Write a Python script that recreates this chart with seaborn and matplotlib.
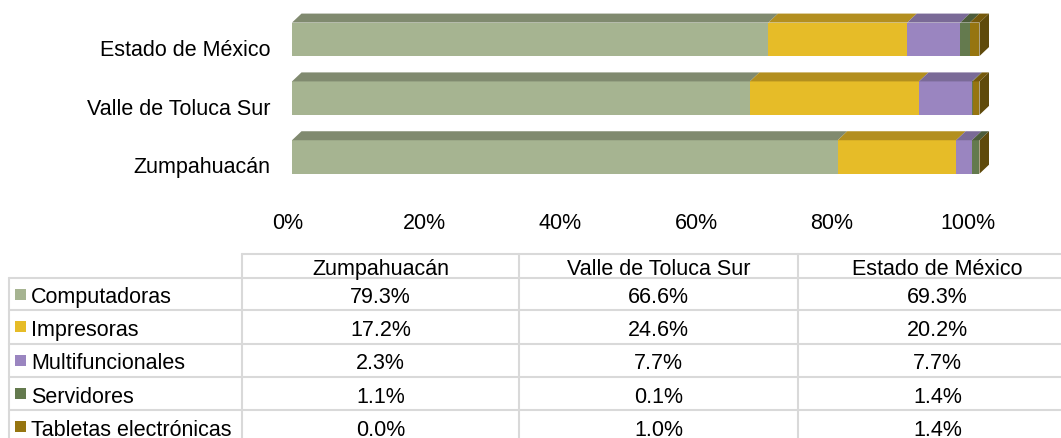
import numpy as np
import pandas as pd
import matplotlib
matplotlib.use("Agg")
import matplotlib.pyplot as plt
import matplotlib.transforms as mtransforms
from matplotlib.patches import Polygon, Rectangle
from matplotlib.lines import Line2D
import seaborn as sns

# ---------------- data ----------------
regions = ["Estado de México", "Valle de Toluca Sur", "Zumpahuacán"]   # bar order, top to bottom
table_regions = ["Zumpahuacán", "Valle de Toluca Sur", "Estado de México"]  # table column order
series = ["Computadoras", "Impresoras", "Multifuncionales", "Servidores", "Tabletas electrónicas"]
computadoras = [69.3, 66.6, 79.3]
impresoras = [20.2, 24.6, 17.2]
multifuncionales = [7.7, 7.7, 2.3]
servidores = [1.4, 0.1, 1.1]
tabletas = [1.4, 1.0, 0.0]
x_ticks = [0, 0.2, 0.4, 0.6, 0.8, 1.0]
x_tick_labels = ["0%", "20%", "40%", "60%", "80%", "100%"]

values = [computadoras, impresoras, multifuncionales, servidores, tabletas]

# ---------------- style ----------------
front_colors = ["#A6B491", "#E6BC28", "#9A85C0", "#647A4E", "#967510"]
top_colors = ["#808A6F", "#B38F1F", "#7A6A97", "#4C5C3A", "#75590B"]
side_color = "#5F4A0B"
grid_color = "#D9D9D9"
FS = 15.5

sns.set_style("white")
plt.rcParams["font.family"] = ["Liberation Sans", "DejaVu Sans"]
plt.rcParams["font.size"] = FS
plt.rcParams["text.color"] = "black"
plt.rcParams["xtick.color"] = "black"
plt.rcParams["ytick.color"] = "black"
plt.rcParams["xtick.labelcolor"] = "black"
plt.rcParams["ytick.labelcolor"] = "black"

W, H = 1061, 439
fig = plt.figure(figsize=(W / 100, H / 100), dpi=100)
fig.patch.set_facecolor("white")

def fx(x):
    return x / W

def fy(y):
    return 1 - y / H

# ---------------- bars ----------------
df = pd.DataFrame({"region": regions})
arr = np.array(values, dtype=float)
totals = arr.sum(axis=0)
shares = arr / totals
cum = np.cumsum(shares, axis=0)
for i, name in enumerate(series):
    df[name + "_cum"] = cum[i]
    df[name + "_start"] = cum[i] - shares[i]

x0p, x1p = 292, 979.5
ytop_p, ybot_p = 10.9, 187.4
ax = fig.add_axes([fx(x0p), fy(ybot_p), (x1p - x0p) / W, (ybot_p - ytop_p) / H])
bar_w = 0.569

for i in range(len(series) - 1, -1, -1):
    sns.barplot(data=df, x=series[i] + "_cum", y="region", order=regions,
                color=front_colors[i], saturation=1, width=bar_w, errorbar=None,
                orient="h", edgecolor="none", linewidth=0, ax=ax)

ax.set_xlim(0, 1)
ax.set_ylim(2.5, -0.5)

px_per_x = (x1p - x0p)
px_per_y = (ybot_p - ytop_p) / 3.0
dx = 9.5 / px_per_x
dy = 9.0 / px_per_y

for r in range(len(regions)):
    ytop = r - bar_w / 2
    ybot = r + bar_w / 2
    for i in range(len(series)):
        s = df[series[i] + "_start"].iloc[r]
        e = df[series[i] + "_cum"].iloc[r]
        poly = Polygon([(s, ytop), (e, ytop), (e + dx, ytop - dy), (s + dx, ytop - dy)],
                       closed=True, facecolor=top_colors[i], edgecolor="none",
                       clip_on=False, zorder=3)
        ax.add_patch(poly)
    e = df[series[-1] + "_cum"].iloc[r]
    side = Polygon([(e, ytop), (e, ybot), (e + dx, ybot - dy), (e + dx, ytop - dy)],
                   closed=True, facecolor=side_color, edgecolor="none",
                   clip_on=False, zorder=3)
    ax.add_patch(side)

for sp in ax.spines.values():
    sp.set_visible(False)
ax.set_xlabel("")
ax.set_ylabel("")
ax.xaxis.set_visible(False)
ax.tick_params(axis="y", length=0, pad=15.8, labelsize=FS, labelcolor="black")
ax.set_yticks(range(len(regions)))
ax.set_yticklabels(regions)
offset = mtransforms.ScaledTranslation(0, -15.5 / 100, fig.dpi_scale_trans)
for lab in ax.get_yticklabels():
    lab.set_verticalalignment("baseline")
    lab.set_color("black")
    lab.set_transform(lab.get_transform() + offset)
ax.patch.set_alpha(0)

# ---------------- x tick labels (value axis) ----------------
tax = fig.add_axes([fx(288), fy(229.5), 680 / W, 0.0001])
tax.set_xlim(0, 1)
tax.set_xticks(x_ticks)
tax.set_xticklabels(x_tick_labels)
tax.tick_params(axis="x", length=0, pad=0, labelsize=FS, labelcolor="black")
for lab in tax.get_xticklabels():
    lab.set_verticalalignment("baseline")
    lab.set_color("black")
tax.set_yticks([])
for sp in tax.spines.values():
    sp.set_visible(False)
tax.patch.set_alpha(0)

# ---------------- data table ----------------
tab = fig.add_axes([0, 0, 1, 1])
tab.set_xlim(0, W)
tab.set_ylim(H, 0)
tab.axis("off")
tab.patch.set_alpha(0)

header_top = 254.7
row_lines = [278.7, 311.3, 344.5, 377.5, 410.7, 443.9]
col_lines = [242.3, 519, 798, 1077]
left_x = 9
lw = 1.5

tab.add_line(Line2D([col_lines[0], W], [header_top, header_top], color=grid_color, lw=lw))
for yl in row_lines[:-1]:
    tab.add_line(Line2D([left_x, W], [yl, yl], color=grid_color, lw=lw))
tab.add_line(Line2D([left_x, left_x], [row_lines[0], H], color=grid_color, lw=lw))
for xl in col_lines[:-1]:
    tab.add_line(Line2D([xl, xl], [header_top, H], color=grid_color, lw=lw))

col_centers = [(col_lines[k] + col_lines[k + 1]) / 2 for k in range(3)]
for k, reg in enumerate(table_regions):
    tab.text(col_centers[k], 275, reg, ha="center", va="baseline", fontsize=FS, color="black")

for i, name in enumerate(series):
    top = row_lines[i]
    bot = row_lines[i + 1]
    base = bot - 8
    mid = (top + bot) / 2
    tab.add_patch(Rectangle((15, mid - 5.5), 11, 11, facecolor=front_colors[i], edgecolor="none"))
    tab.text(31, base, name, ha="left", va="baseline", fontsize=FS, color="black")
    for k, reg in enumerate(table_regions):
        v = values[i][regions.index(reg)]
        tab.text(col_centers[k], base, f"{v:.1f}%", ha="center", va="baseline",
                 fontsize=FS, color="black")

fig.savefig("out.png", dpi=100)
